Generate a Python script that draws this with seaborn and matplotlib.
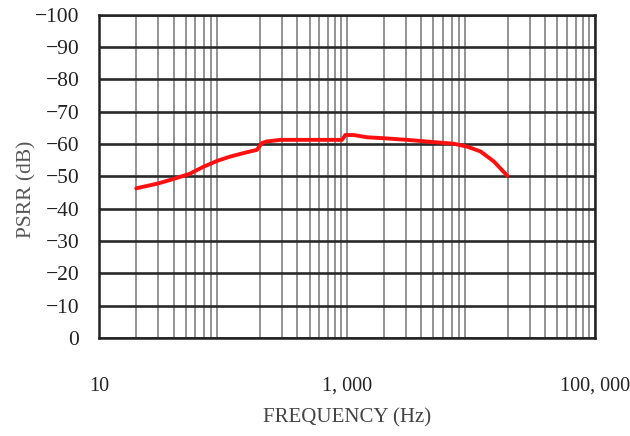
import matplotlib
matplotlib.use("Agg")
import matplotlib.pyplot as plt
import matplotlib.ticker as mticker
import seaborn as sns
import pandas as pd

# PSRR curve (Hz, dB)
freq_hz = [20, 30, 40, 54, 70, 90, 114, 150, 188, 206, 226, 290, 400, 600, 914,
           973, 1135, 1455, 1985, 3065, 5030, 7300, 9350, 12000, 15360, 19700]
psrr_db = [-46.3, -47.8, -49.2, -50.8, -53.0, -54.8, -56.1, -57.3, -58.2, -60.3, -60.8, -61.3,
           -61.3, -61.3, -61.3, -62.8, -62.8, -62.1, -61.8, -61.3, -60.6, -60.1, -59.2,
           -57.7, -54.6, -50.2]

y_ticks = list(range(0, -101, -10))
x_ticks = [10, 1000, 100000]
x_tick_labels = ["10", "1, 000", "100, 000"]

df = pd.DataFrame({"Frequency": freq_hz, "PSRR": psrr_db})

sns.set_theme(style="white")
plt.rcParams["font.family"] = ["Liberation Serif", "DejaVu Serif"]

fig = plt.figure(figsize=(6.3, 4.36), dpi=100)
ax = fig.add_axes([0.157, 0.225, 0.787, 0.741])

sns.lineplot(data=df, x="Frequency", y="PSRR", ax=ax, color="#ff1010", linewidth=2.8, zorder=5)

ax.set_xscale("log")
ax.set_xlim(10, 100000)
ax.set_ylim(0, -100)

ax.set_yticks(y_ticks)
ax.set_yticklabels(["\u2212" + str(abs(v)) if v else "0" for v in y_ticks])
ax.set_xticks(x_ticks)
ax.set_xticklabels(x_tick_labels)
ax.xaxis.set_minor_locator(mticker.LogLocator(base=10, subs=range(2, 10)))
ax.xaxis.set_minor_formatter(mticker.NullFormatter())

ax.grid(True, which="major", axis="y", color="#2a2a2a", linewidth=1.9)
ax.grid(True, which="both", axis="x", color="#8a8a8a", linewidth=1.3)
ax.tick_params(axis="both", which="both", length=0, colors="#222222")
ax.tick_params(axis="y", labelsize=15.5, pad=14)
ax.tick_params(axis="x", labelsize=14.5, pad=28)

for s in ax.spines.values():
    s.set_color("#222222")
    s.set_linewidth(1.8)

ax.set_xlabel("FREQUENCY (Hz)", fontsize=15, color="#444444", labelpad=9)
ax.set_ylabel("PSRR (dB)", fontsize=15.5, color="#555555", labelpad=4)
ax.yaxis.set_label_coords(-0.125, 0.46)

fig.savefig("out.png", dpi=100)
